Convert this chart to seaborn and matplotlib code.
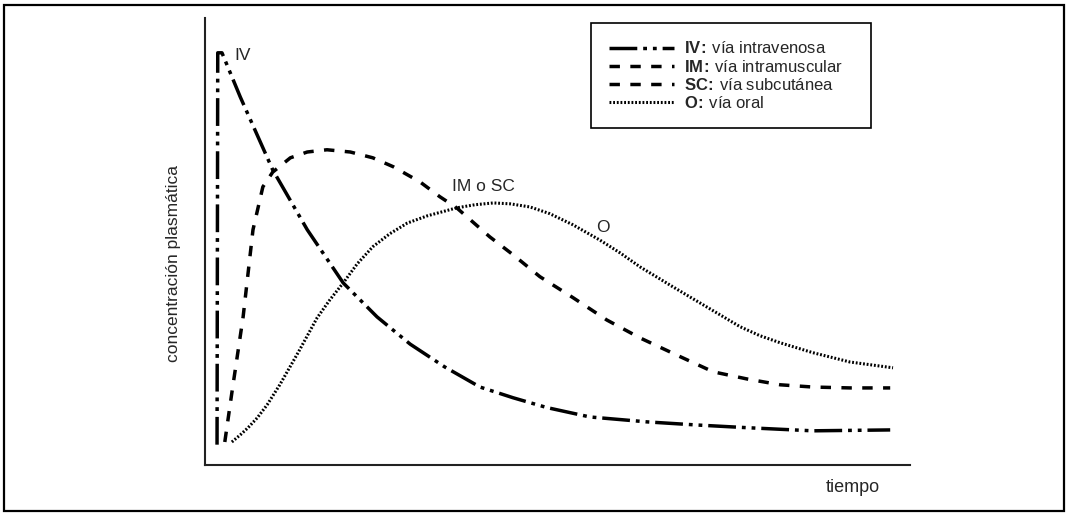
import matplotlib
matplotlib.use('Agg')
import matplotlib.pyplot as plt
import seaborn as sns
import pandas as pd
from matplotlib.lines import Line2D
from matplotlib.patches import Rectangle

# curves (tiempo in arbitrary units, concentracion in %)
iv_t = [0.17, 0.18, 0.24, 0.50, 0.96, 1.45, 1.96, 2.44, 2.91, 3.40, 3.90, 4.37, 4.85, 5.46, 6.27,
        6.98, 7.69, 8.62, 9.72]
iv_c = [4.5, 92.2, 92.2, 82.3, 66.0, 52.6, 40.7, 33.1, 27.0, 21.9, 17.4, 15.0, 12.8, 10.7, 9.6,
        8.9, 8.3, 7.6, 7.8]

im_t = [0.28, 0.38, 0.54, 0.68, 0.82, 0.96, 1.21, 1.45, 1.73, 2.06, 2.38, 2.67, 3.05, 3.33, 3.57,
        4.04, 4.37, 4.75, 5.22, 5.70, 6.17, 6.74, 7.21, 7.69, 8.16, 8.62, 9.15, 9.72]
im_c = [5.1, 16.1, 33.1, 52.6, 62.2, 65.5, 68.7, 70.0, 70.5, 70.0, 68.7, 66.7, 63.3, 60.0, 57.5,
        51.0, 47.0, 42.1, 37.4, 32.4, 28.4, 24.2, 20.8, 19.2, 17.9, 17.4, 17.2, 17.2]

o_t = [0.38, 0.50, 0.61, 0.74, 0.88, 1.06, 1.32, 1.59, 1.77, 1.96, 2.16, 2.38, 2.62, 2.87, 3.15,
       3.57, 3.83, 4.09, 4.33, 4.61, 4.89, 5.22, 5.60, 5.89, 6.17, 6.64, 7.12, 7.59, 7.87, 8.16,
       8.62, 9.15, 9.76]
o_c = [5.1, 6.7, 8.3, 10.5, 13.4, 17.9, 25.1, 32.9, 36.9, 40.7, 45.0, 48.8, 51.7, 54.1, 55.7,
       57.5, 58.2, 58.6, 58.4, 57.7, 56.2, 53.7, 50.3, 47.4, 44.3, 39.8, 35.3, 30.9, 28.9, 27.3,
       25.1, 23.0, 21.7]

legend_labels = [r'$\mathbf{IV\!:}\,$vía intravenosa', r'$\mathbf{IM\!:}\,$vía intramuscular',
                 r'$\mathbf{SC\!:}\,$vía subcutánea', r'$\mathbf{O\!:}\,$vía oral']

sns.set_style('white')
plt.rcParams['font.family'] = ['Liberation Sans', 'DejaVu Sans']
plt.rcParams['mathtext.fontset'] = 'custom'
plt.rcParams['mathtext.rm'] = 'Liberation Sans'
plt.rcParams['mathtext.bf'] = 'Liberation Sans:bold'

# line styles
ls_iv = (0, (8, 1.7, 1.1, 1.7, 1.1, 1.7))
ls_im = (0, (3, 3))
ls_o = (0, (0.6, 0.6))

fig = plt.figure(figsize=(10.68, 5.13), dpi=100)
ax = fig.add_axes([0.192, 0.094, 0.660, 0.871])

df_iv = pd.DataFrame({'t': iv_t, 'c': iv_c})
df_im = pd.DataFrame({'t': im_t, 'c': im_c})
df_o = pd.DataFrame({'t': o_t, 'c': o_c})

sns.lineplot(data=df_iv, x='t', y='c', ax=ax, color='black', lw=2.5, linestyle=ls_iv, estimator=None, sort=False)
sns.lineplot(data=df_im, x='t', y='c', ax=ax, color='black', lw=2.5, linestyle=ls_im, estimator=None, sort=False)
sns.lineplot(data=df_o, x='t', y='c', ax=ax, color='black', lw=2.2, linestyle=ls_o, estimator=None, sort=False)

ax.set_xlim(0, 10)
ax.set_ylim(0, 100)
ax.set_xticks([])
ax.set_yticks([])
for side in ['top', 'right']:
    ax.spines[side].set_visible(False)
for side in ['left', 'bottom']:
    ax.spines[side].set_color('#222222')
    ax.spines[side].set_linewidth(1.5)

# curve labels
ax.text(0.54, 91.7, 'IV', fontsize=12.5, ha='center', va='center')
ax.text(3.50, 62.2, 'IM o SC', fontsize=12.5, ha='left', va='center')
ax.text(5.65, 53.2, 'O', fontsize=12.5, ha='center', va='center')

ax.set_xlabel('tiempo', fontsize=13)
ax.xaxis.set_label_coords(0.919, -0.051)
ax.xaxis.label.set_va('center')
ax.set_ylabel('concentración plasmática', fontsize=12.5)
ax.yaxis.set_label_coords(-0.045, 0.45)
ax.yaxis.label.set_va('center')

handles = [
    Line2D([], [], color='black', lw=2.5, linestyle=ls_iv),
    Line2D([], [], color='black', lw=2.5, linestyle=ls_im),
    Line2D([], [], color='black', lw=2.5, linestyle=ls_im),
    Line2D([], [], color='black', lw=2.2, linestyle=ls_o),
]
leg = ax.legend(handles, legend_labels, loc='upper left', bbox_to_anchor=(0.548, 0.747, 0.397, 0.242),
                mode='expand', borderaxespad=0, fontsize=12, handlelength=3.9, handletextpad=0.6,
                labelspacing=0.13, borderpad=1.05, fancybox=False, framealpha=1)
leg.get_frame().set_edgecolor('black')
leg.get_frame().set_linewidth(1.2)

# outer frame round the whole figure
fig.add_artist(Rectangle((0.004, 0.004), 0.992, 0.986, transform=fig.transFigure,
                         fill=False, lw=1.6, edgecolor='black'))

plt.savefig('out.png', dpi=100)
